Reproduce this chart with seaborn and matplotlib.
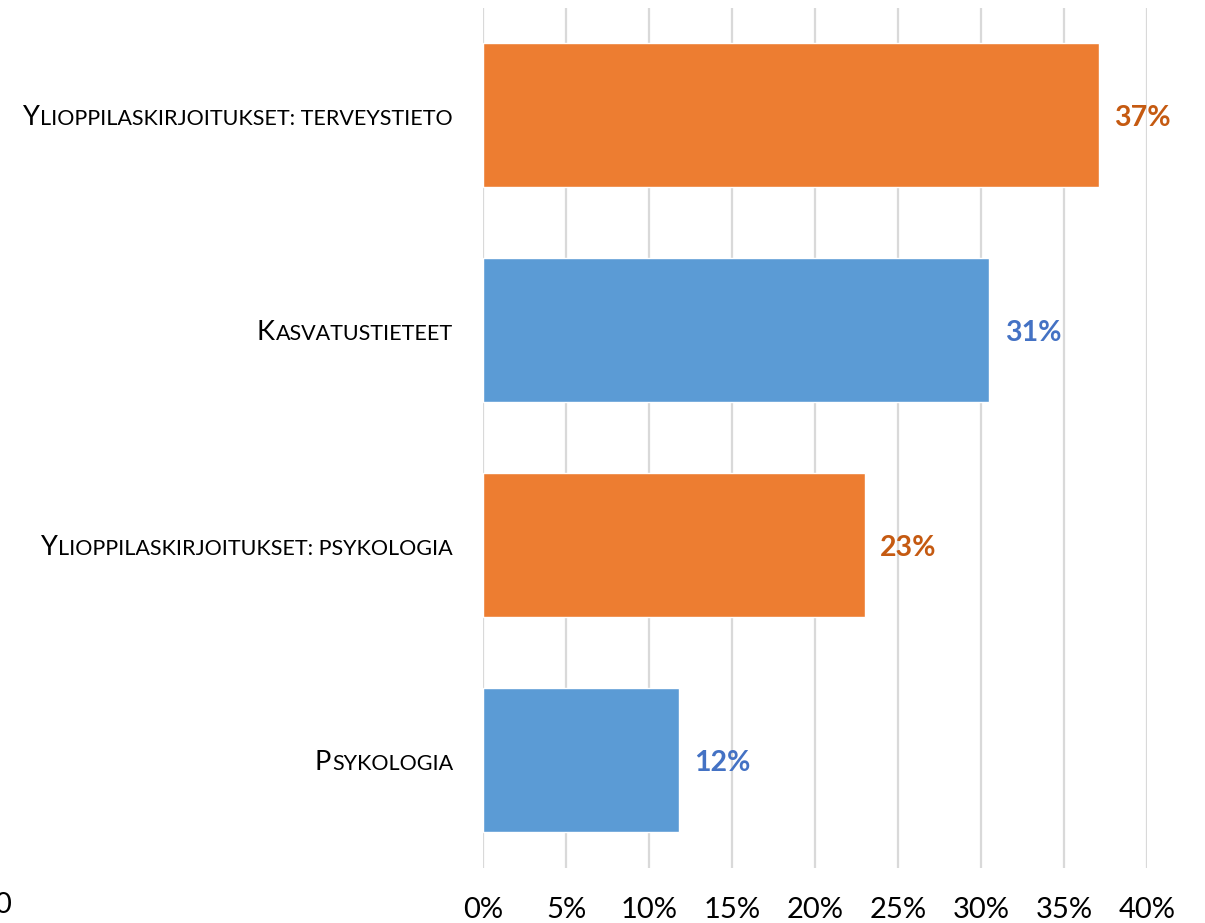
import matplotlib.pyplot as plt
import seaborn as sns
import pandas as pd
from matplotlib.ticker import FuncFormatter

# data
categories = ["Ylioppilaskirjoitukset: terveystieto", "Kasvatustieteet",
              "Ylioppilaskirjoitukset: psykologia", "Psykologia"]
shares = [37.1, 30.5, 23.0, 11.8]
value_labels = ["37%", "31%", "23%", "12%"]
bar_colors = ["#ED7D31", "#5B9BD5", "#ED7D31", "#5B9BD5"]
label_colors = ["#C55A11", "#4472C4", "#C55A11", "#4472C4"]

df = pd.DataFrame({"category": categories, "share": shares})

sns.set_theme(style="white")
plt.rcParams["font.family"] = ["Lato", "DejaVu Sans"]

W, H = 1205, 923
fig = plt.figure(figsize=(W / 100, H / 100), dpi=100)
ax = fig.add_axes([483 / W, 1 - 867.5 / H, (1147 - 483) / W, (867.5 - 7.5) / H])

sns.barplot(data=df, x="share", y="category", hue="category", palette=bar_colors,
            legend=False, width=0.67, saturation=1, ax=ax, zorder=3)

ax.set_xlim(0, 40)
ax.set_xticks(range(0, 41, 5))
ax.xaxis.set_major_formatter(FuncFormatter(lambda v, p: f"{v:.0f}%"))
ax.grid(axis="x", color="#D9D9D9", linewidth=1.6, zorder=0)
ax.set_axisbelow(True)
for s in ax.spines.values():
    s.set_visible(False)
ax.tick_params(axis="x", length=0, pad=21, labelsize=21, labelcolor="#000000")
ax.set_yticklabels([])
ax.tick_params(axis="y", length=0)
ax.set_xlabel("")
ax.set_ylabel("")

# value labels
for i, (v, t) in enumerate(zip(shares, value_labels)):
    ax.annotate(t, xy=(v, i), xytext=(11, -2), textcoords="offset points",
                ha="left", va="center", fontsize=20.5, fontweight="bold",
                color=label_colors[i])

# small-caps category labels: first letter large, the rest in smaller capitals
fig.canvas.draw()
renderer = fig.canvas.get_renderer()
for i, c in enumerate(categories):
    rest = ax.annotate(c[1:].upper(), xy=(0, i), xytext=(-30 / 1.389, -7.5),
                       textcoords="offset points", ha="right", va="baseline",
                       fontsize=15.5, color="black")
    bb = rest.get_window_extent(renderer)
    ax.annotate(c[0].upper(), xy=(0, i), xytext=(-(483 - bb.x0 + 1) / 1.389, -7.5),
                textcoords="offset points", ha="right", va="baseline",
                fontsize=19.5, color="black")

# stray axis label cut at the left edge (as in the reference)
fig.text(-6 / W, 1 - 905 / H, "0", fontsize=21, ha="left", va="center", color="black")

fig.savefig("out.png", dpi=100)
